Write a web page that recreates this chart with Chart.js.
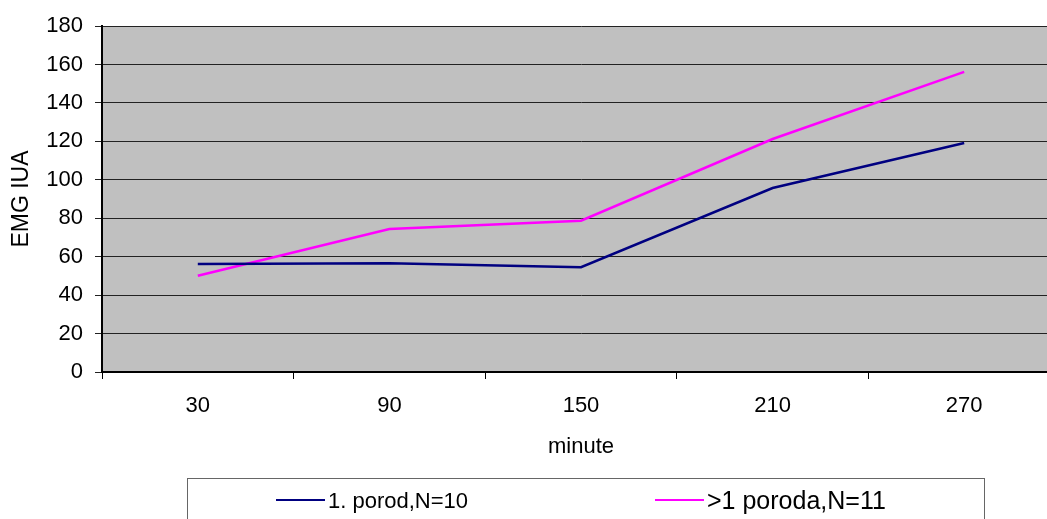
<!DOCTYPE html>
<html>
<head>
<meta charset="utf-8">
<title>EMG IUA</title>
<script src="https://cdn.jsdelivr.net/npm/chart.js@4.4.1/dist/chart.umd.min.js"></script>
<style>
    html, body { margin: 0; padding: 0; background: #fff; overflow: hidden; }
    #wrap { width: 1047px; height: 519px; overflow: hidden; }
</style>
</head>
<body>
<div id="wrap">
    <canvas id="emgChart" width="1062" height="519"></canvas>
</div>
<script>
// Data
var minutes = ['30', '90', '150', '210', '270'];
var porodOne = [56.2, 56.6, 54.5, 95.7, 119.1];
var porodMore = [50.1, 74.4, 78.7, 121.2, 156.1];
var seriesNames = ['1. porod,N=10', '>1 poroda,N=11'];
var seriesColors = ['#000080', '#FF00FF'];

var FONT = '"Liberation Sans", Arial, sans-serif';
Chart.defaults.font.family = FONT;
Chart.defaults.color = '#000';

// gray plot area behind everything
var plotBackground = {
    id: 'plotBackground',
    beforeDraw: function(chart) {
        var a = chart.chartArea;
        var ctx = chart.ctx;
        ctx.save();
        ctx.fillStyle = '#C0C0C0';
        ctx.fillRect(a.left, a.top, a.right - a.left, a.bottom - a.top);
        ctx.restore();
    }
};

// boxed legend at the bottom, like the old spreadsheet one
var boxLegend = {
    id: 'boxLegend',
    afterDraw: function(chart) {
        var ctx = chart.ctx;
        var items = [
            { x: 276, size: 22 },
            { x: 655, size: 25 }
        ];
        ctx.save();
        ctx.strokeStyle = '#666';
        ctx.lineWidth = 1;
        ctx.strokeRect(187.5, 478.5, 797, 80);
        chart.data.datasets.forEach(function(ds, i) {
            var it = items[i];
            var y = 500;
            ctx.strokeStyle = ds.borderColor;
            ctx.lineWidth = 2;
            ctx.beginPath();
            ctx.moveTo(it.x, y);
            ctx.lineTo(it.x + 49, y);
            ctx.stroke();
            ctx.fillStyle = '#000';
            ctx.font = it.size + 'px ' + FONT;
            ctx.textBaseline = 'middle';
            ctx.textAlign = 'left';
            ctx.fillText(ds.label, it.x + 52, y + 2);
        });
        ctx.restore();
    }
};

new Chart(document.getElementById('emgChart'), {
    type: 'line',
    data: {
        labels: minutes,
        datasets: [{
            label: seriesNames[0],
            data: porodOne,
            borderColor: seriesColors[0],
            backgroundColor: seriesColors[0],
            borderWidth: 2.5,
            pointRadius: 0,
            tension: 0
        }, {
            label: seriesNames[1],
            data: porodMore,
            borderColor: seriesColors[1],
            backgroundColor: seriesColors[1],
            borderWidth: 2.5,
            pointRadius: 0,
            tension: 0
        }]
    },
    options: {
        responsive: false,
        animation: false,
        layout: { padding: { top: 26, right: 2, left: 0, bottom: 0 } },
        plugins: {
            legend: { display: false },
            tooltip: { enabled: false }
        },
        scales: {
            x: {
                offset: true,
                grid: {
                    offset: true,
                    drawOnChartArea: false,
                    drawTicks: true,
                    tickLength: 7,
                    color: '#000'
                },
                border: { color: '#000', width: 2 },
                ticks: { font: { size: 22 }, padding: 14, maxRotation: 0 },
                title: {
                    display: true,
                    text: 'minute',
                    font: { size: 22 },
                    padding: { top: 0, bottom: 59 }
                },
                afterFit: function(scale) { scale.height = 147; }
            },
            y: {
                min: 0,
                max: 180,
                ticks: { stepSize: 20, font: { size: 22 }, padding: 12 },
                grid: {
                    color: '#222',
                    lineWidth: 1,
                    drawTicks: true,
                    tickLength: 7
                },
                border: { color: '#000', width: 2 },
                title: {
                    display: true,
                    text: 'EMG IUA',
                    font: { size: 23 },
                    padding: { top: 8, bottom: 0 }
                },
                afterFit: function(scale) { scale.width = 102; }
            }
        }
    },
    plugins: [plotBackground, boxLegend]
});
</script>
</body>
</html>
